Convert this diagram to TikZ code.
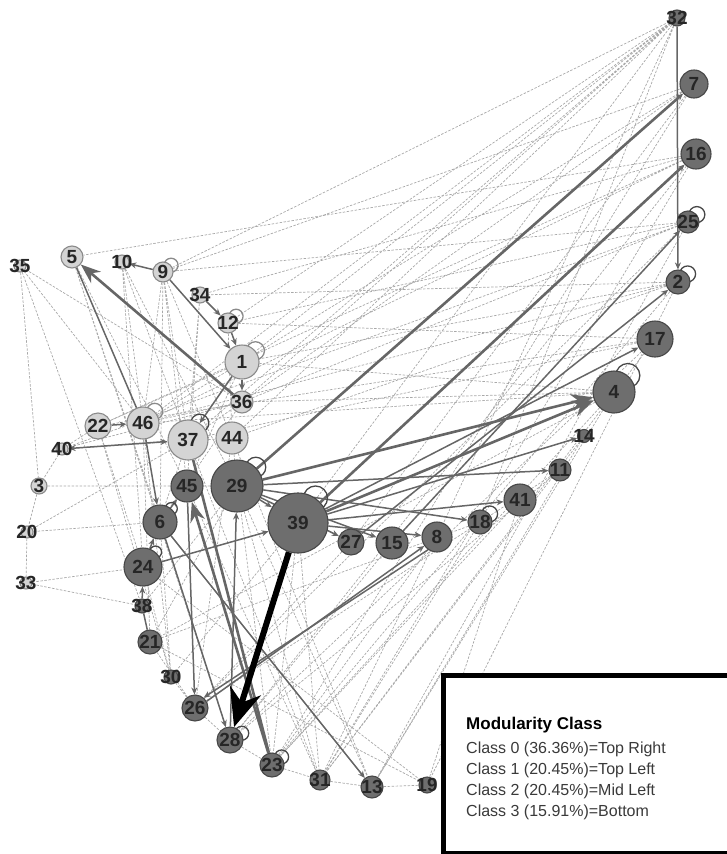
\documentclass[tikz,border=0pt]{standalone}
\usepackage{fontspec}
\setsansfont{Liberation Sans}
\usetikzlibrary{arrows.meta, backgrounds}
\definecolor{cdark}{HTML}{6E6E6E}
\definecolor{cdarkline}{HTML}{474747}
\definecolor{clight}{HTML}{D4D4D4}
\definecolor{clightline}{HTML}{8A8A8A}
\definecolor{cgrey}{HTML}{666666}
\definecolor{cfaint}{HTML}{A8A8A8}
\definecolor{ctext}{HTML}{3A3A3A}
\tikzset{
  every picture/.style={font=\sffamily},
  num/.style={font=\sffamily\bfseries\fontsize{19}{19}\selectfont, text=black!85, inner sep=0pt},
  vtx/.style 2 args={circle, draw=cdarkline, fill=cdark, line width=1.1pt, inner sep=0pt, minimum size=#1, label={[num]center:#2}},
  lvtx/.style 2 args={circle, draw=clightline, fill=clight, line width=1.1pt, inner sep=0pt, minimum size=#1, label={[num]center:#2}},
  faint/.style={draw=cfaint, line width=0.7pt, dash pattern=on 2.5pt off 1.5pt},
  link/.style={draw=cgrey, line width=1.5pt, -{Stealth[length=7pt, width=6pt]}},
  heavy/.style={link, line width=2.6pt},
  bighead/.style={-{Stealth[length=22pt, width=17pt]}},
  loopy/.style={draw=#1, line width=1.3pt},
  loopy/.default=cdarkline,
  keytitle/.style={font=\sffamily\bfseries\fontsize{17}{17}\selectfont, anchor=base west, inner sep=0pt},
  keyline/.style={font=\sffamily\fontsize{16}{16}\selectfont, text=ctext, anchor=base west, inner sep=0pt},
}
\begin{document}
\begin{tikzpicture}[x=1pt, y=-1pt]
  \useasboundingbox (0,0) rectangle (726,854);
  % top right
  \node[vtx={16pt}{32}] (n32) at (677,18) {};
  \node[vtx={28pt}{7}] (n7) at (694,84) {};
  \node[vtx={30pt}{16}] (n16) at (696,154) {};
  \node[vtx={22pt}{25}] (n25) at (688,222) {};
  \node[vtx={24pt}{2}] (n2) at (678,282) {};
  \node[vtx={36pt}{17}] (n17) at (655,339) {};
  \node[vtx={42pt}{4}] (n4) at (614,392) {};
  \node[vtx={13pt}{14}] (n14) at (584,436) {};
  \node[vtx={22pt}{11}] (n11) at (560,470) {};
  \node[vtx={32pt}{41}] (n41) at (520,500) {};
  \node[vtx={24pt}{18}] (n18) at (480,522) {};
  \node[vtx={30pt}{8}] (n8) at (437,537) {};
  \node[vtx={32pt}{15}] (n15) at (392,543) {};
  \node[vtx={26pt}{27}] (n27) at (351,542) {};
  \node[vtx={60pt}{39}] (n39) at (298,523) {};
  % mid left
  \node[vtx={52pt}{29}] (n29) at (237,486) {};
  \node[vtx={32pt}{45}] (n45) at (187,486) {};
  \node[vtx={34pt}{6}] (n6) at (160,522) {};
  \node[vtx={38pt}{24}] (n24) at (143,567) {};
  % bottom
  \node[vtx={14pt}{38}] (n38) at (142,606) {};
  \node[vtx={24pt}{21}] (n21) at (150,642) {};
  \node[vtx={14pt}{30}] (n30) at (171,677) {};
  \node[vtx={26pt}{26}] (n26) at (195,708) {};
  \node[vtx={26pt}{28}] (n28) at (230,740) {};
  \node[vtx={24pt}{23}] (n23) at (272,765) {};
  \node[vtx={20pt}{31}] (n31) at (320,780) {};
  \node[vtx={22pt}{13}] (n13) at (372,787) {};
  \node[vtx={16pt}{19}] (n19) at (427,785) {};
  % top left
  \node[lvtx={12pt}{35}] (n35) at (20,266) {};
  \node[lvtx={22pt}{5}] (n5) at (72,257) {};
  \node[lvtx={14pt}{10}] (n10) at (122,262) {};
  \node[lvtx={20pt}{9}] (n9) at (163,272) {};
  \node[lvtx={16pt}{34}] (n34) at (200,295) {};
  \node[lvtx={20pt}{12}] (n12) at (228,323) {};
  \node[lvtx={34pt}{1}] (n1) at (242,362) {};
  \node[lvtx={22pt}{36}] (n36) at (242,402) {};
  \node[lvtx={32pt}{46}] (n46) at (143,423) {};
  \node[lvtx={26pt}{22}] (n22) at (98,426) {};
  \node[lvtx={12pt}{40}] (n40) at (62,449) {};
  \node[lvtx={40pt}{37}] (n37) at (188,440) {};
  \node[lvtx={32pt}{44}] (n44) at (232,438) {};
  \node[lvtx={16pt}{3}] (n3) at (39,486) {};
  \node[lvtx={12pt}{20}] (n20) at (27,532) {};
  \node[lvtx={12pt}{33}] (n33) at (26,583) {};

  \begin{scope}[on background layer]
    % dashed links
    \draw[faint] (n32) -- (n9) (n32) -- (n12) (n32) -- (n1) (n32) -- (n36) (n32) -- (n46)
      (n32) -- (n37) (n32) -- (n44) (n32) -- (n39) (n32) -- (n18) (n32) -- (n8);
    \draw[faint] (n7) -- (n9) (n7) -- (n1) (n7) -- (n36) (n7) -- (n37) (n7) -- (n27) (n7) -- (n23)
      (n16) -- (n5) (n16) -- (n34) (n16) -- (n46) (n16) -- (n22) (n16) -- (n28) (n16) -- (n31);
    \draw[faint] (n25) -- (n9) (n25) -- (n12) (n25) -- (n36) (n25) -- (n40) (n25) -- (n26) (n25) -- (n13)
      (n2) -- (n34) (n2) -- (n1) (n2) -- (n46) (n2) -- (n44) (n2) -- (n23) (n2) -- (n19);
    \draw[faint] (n17) -- (n12) (n17) -- (n22) (n17) -- (n37) (n17) -- (n28) (n17) -- (n31)
      (n4) -- (n1) (n4) -- (n36) (n4) -- (n46) (n4) -- (n23) (n4) -- (n21) (n4) -- (n13);
    \draw[faint] (n14) -- (n13) (n14) -- (n31) (n11) -- (n26) (n11) -- (n28) (n41) -- (n19) (n41) -- (n23)
      (n18) -- (n21) (n18) -- (n31) (n8) -- (n23) (n8) -- (n31) (n15) -- (n28) (n27) -- (n26);
    \draw[faint] (n35) -- (n46) (n35) -- (n36) (n35) -- (n38) (n35) -- (n3) (n5) -- (n28) (n5) -- (n6)
      (n5) -- (n45) (n10) -- (n46) (n10) -- (n37) (n10) -- (n29) (n10) -- (n24);
    \draw[faint] (n9) -- (n46) (n9) -- (n6) (n9) -- (n45) (n9) -- (n44) (n9) -- (n37) (n34) -- (n37)
      (n34) -- (n45) (n12) -- (n44) (n1) -- (n22) (n1) -- (n46) (n1) -- (n45);
    \draw[faint] (n36) -- (n40) (n36) -- (n6) (n36) -- (n46) (n22) -- (n40) (n22) -- (n24) (n40) -- (n3)
      (n40) -- (n44) (n3) -- (n20) (n3) -- (n45) (n3) -- (n29) (n20) -- (n33) (n20) -- (n6) (n20) -- (n37);
    \draw[faint] (n33) -- (n38) (n33) -- (n24) (n46) -- (n30) (n46) -- (n21) (n22) -- (n30) (n37) -- (n24)
      (n37) -- (n31) (n44) -- (n13) (n44) -- (n23) (n45) -- (n31) (n6) -- (n30) (n24) -- (n30);
    \draw[faint] (n24) -- (n19) (n26) -- (n30) (n26) -- (n28) (n28) -- (n23) (n23) -- (n31) (n31) -- (n13)
      (n13) -- (n19) (n21) -- (n26) (n38) -- (n29) (n30) -- (n39) (n29) -- (n13) (n29) -- (n31)
      (n21) -- (n19) (n44) -- (n26) (n29) -- (n21) (n39) -- (n31) (n39) -- (n23);
    % solid links
    \draw[link] (n32) -- (n2);
    \draw[heavy] (n29) -- (n7);
    \draw[heavy] (n39) -- (n16);
    \draw[link] (n15) -- (n25);
    \draw[link] (n39) -- (n17);
    \draw[link] (n27) -- (n2);
    \draw[heavy, bighead] (n29) -- (n4);
    \draw[heavy, bighead] (n39) -- (n4);
    \draw[link] (n39) -- (n14);
    \draw[link] (n29) -- (n11);
    \draw[link] (n39) -- (n41);
    \draw[link] (n29) -- (n18);
    \draw[link] (n29) -- (n15);
    \draw[link] (n39) -- (n8);
    \draw[link] (n29) -- (n27);
    \draw[link] (n29) -- (n39);
    \draw[link] (n26.30) -- (n8.215);
    \draw[link] (n8.235) -- (n26.50);
    \draw[heavy, -{Stealth[length=20pt, width=15pt]}] (n36) -- (n5);
    \draw[link, -] (n46) -- (n5);
    \draw[link] (n9) -- (n1);
    \draw[link] (n9) -- (n10);
    \draw[link] (n34) -- (n12);
    \draw[link] (n12) -- (n1);
    \draw[link] (n1) -- (n36);
    \draw[link] (n1) -- (n37);
    \draw[link] (n22) -- (n46);
    \draw[link, {Stealth[length=7pt, width=6pt]}-{Stealth[length=7pt, width=6pt]}] (n40) -- (n37);
    \draw[heavy, -{Stealth[length=20pt, width=15pt]}] (n23) -- (n45);
    \draw[heavy, -] (n37) -- (n23);
    \draw[link] (n6) -- (n13);
    \draw[link] (n6) -- (n28);
    \draw[link] (n28) -- (n29);
    \draw[link] (n24) -- (n39);
    \draw[link] (n38) -- (n24);
    \draw[link, -] (n21) -- (n38);
    \draw[link] (n45) -- (n26);
    \draw[link] (n46) -- (n6);
    \draw[link] (n6) -- (n45);
    \draw[link] (n24) -- (n6);
    \draw[black, line width=6pt, -{Stealth[length=38pt, width=32pt]}] (n39) -- (n28);
    % self loops
    \draw[loopy=clightline] (n9.40) circle (7);
    \draw[loopy=clightline] (n12.40) circle (7);
    \draw[loopy=clightline] (n1.40) circle (9);
    \draw[loopy=clightline] (n46.45) circle (8);
    \draw[loopy] (n37.55) circle (9);
    \draw[loopy] (n29.45) circle (10);
    \draw[loopy] (n39.55) circle (12);
    \draw[loopy] (n4.50) circle (12);
    \draw[loopy] (n25.40) circle (8);
    \draw[loopy] (n2.40) circle (8);
    \draw[loopy] (n18.40) circle (8);
    \draw[loopy] (n28.30) circle (7);
    \draw[loopy] (n23.40) circle (7);
    \draw[loopy] (n6.50) circle (6);
    \draw[loopy] (n24.50) circle (6);
  \end{scope}

  % legend
  \node[draw=black, line width=5pt, fill=white, anchor=north west, inner sep=0pt,
    minimum width=320pt, minimum height=178pt] (key) at (441,673) {};
  \node[keytitle] (k0) at (466,729) {Modularity Class};
  \node[keyline] (k1) at (466,753) {Class 0 (36.36\%)=Top Right};
  \node[keyline] (k2) at (466,774) {Class 1 (20.45\%)=Top Left};
  \node[keyline] (k3) at (466,795) {Class 2 (20.45\%)=Mid Left};
  \node[keyline] (k4) at (466,816) {Class 3 (15.91\%)=Bottom};
\end{tikzpicture}
\end{document}
